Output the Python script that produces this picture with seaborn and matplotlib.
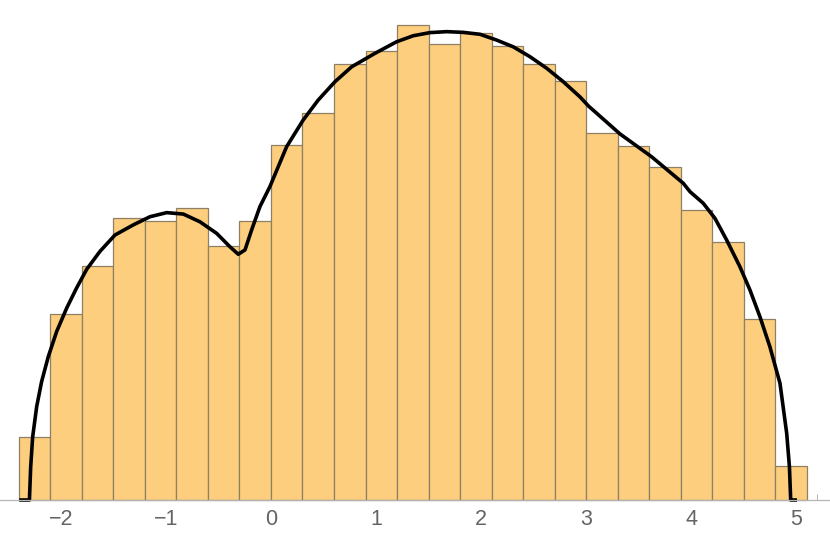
import pandas as pd
import seaborn as sns
from matplotlib import pyplot as plt
from matplotlib.ticker import MultipleLocator

sns.set_theme(style="white")
plt.rcParams["font.family"] = ["Liberation Sans", "DejaVu Sans"]

# Histogram (PDF scaled), bins of width 0.3 from -2.4 to 5.1
bin_edges = [round(-2.4 + 0.3 * i, 2) for i in range(26)]
bin_heights = [
    0.0261, 0.0774, 0.0974, 0.1173, 0.1159, 0.1212, 0.1054, 0.1159,
    0.1474, 0.1607, 0.1813, 0.1867, 0.1974, 0.1893, 0.1939, 0.1886,
    0.1813, 0.1740, 0.1525, 0.1472, 0.1385, 0.1207, 0.1073, 0.0753,
    0.0141,
]

# Smooth density curve
curve_x = [
    -2.395, -2.298, -2.286, -2.267, -2.229, -2.182, -2.119, -2.039, -1.944,
    -1.849, -1.754, -1.627, -1.484, -1.310, -1.151, -0.992, -0.834, -0.676,
    -0.517, -0.390, -0.311, -0.247, -0.184, -0.105, -0.010, 0.149, 0.307,
    0.450, 0.609, 0.768, 0.990, 1.196, 1.354, 1.513, 1.672, 1.830, 1.989,
    2.147, 2.305, 2.464, 2.623, 2.781, 2.940, 3.021, 3.321, 3.622, 3.923,
    3.987, 4.113, 4.225, 4.336, 4.462, 4.557, 4.652, 4.747, 4.843, 4.907,
    4.933, 4.945, 5.005,
]
curve_y = [
    0.0, 0.0, 0.0138, 0.0263, 0.0388, 0.0492, 0.0595, 0.0700, 0.0797,
    0.0881, 0.0958, 0.1033, 0.1101, 0.1143, 0.1177, 0.1194, 0.1188, 0.1156,
    0.1108, 0.1052, 0.1021, 0.1039, 0.1122, 0.1219, 0.1302, 0.1468, 0.1579,
    0.1662, 0.1738, 0.1800, 0.1856, 0.1904, 0.1929, 0.1942, 0.1946, 0.1943,
    0.1935, 0.1911, 0.1883, 0.1842, 0.1794, 0.1738, 0.1675, 0.1637, 0.1521,
    0.1426, 0.1316, 0.1281, 0.1233, 0.1170, 0.1080, 0.0969, 0.0873, 0.0762,
    0.0637, 0.0485, 0.0277, 0.0138, 0.0, 0.0,
]

centers = [(a + b) / 2 for a, b in zip(bin_edges[:-1], bin_edges[1:])]
bars = pd.DataFrame({"x": centers, "h": bin_heights})
curve = pd.DataFrame({"x": curve_x, "y": curve_y})

fig = plt.figure(figsize=(8.3, 5.41), dpi=100)
ax = fig.add_axes([0, 0, 1, 1])

sns.histplot(
    data=bars, x="x", weights="h", bins=bin_edges, ax=ax,
    color="#fdce7e", edgecolor="#8e8064", linewidth=0.9, alpha=1,
)
sns.lineplot(data=curve, x="x", y="y", sort=False, ax=ax,
             color="black", linewidth=2.6,
             solid_joinstyle="round", solid_capstyle="butt")

ax.set_xlim(-2.578, 5.319)
ax.set_ylim(-0.01704, 0.20775)
ax.set_xlabel("")
ax.set_ylabel("")
ax.set_yticks([])

for side in ["left", "right", "top"]:
    ax.spines[side].set_visible(False)
ax.spines["bottom"].set_position(("data", 0))
ax.spines["bottom"].set_color("#b4b4b4")
ax.spines["bottom"].set_linewidth(0.9)

ax.xaxis.set_major_locator(MultipleLocator(1))
ax.xaxis.set_minor_locator(MultipleLocator(0.2))
ax.tick_params(axis="x", which="major", direction="in", length=8,
               width=0.8, color="#b4b4b4", labelsize=15.5,
               labelcolor="#646464", pad=6.5, bottom=True)
ax.tick_params(axis="x", which="minor", direction="in", length=4.5,
               width=0.7, color="#b4b4b4", bottom=True)
ax.patch.set_alpha(0)

fig.savefig("out.png", dpi=100)
